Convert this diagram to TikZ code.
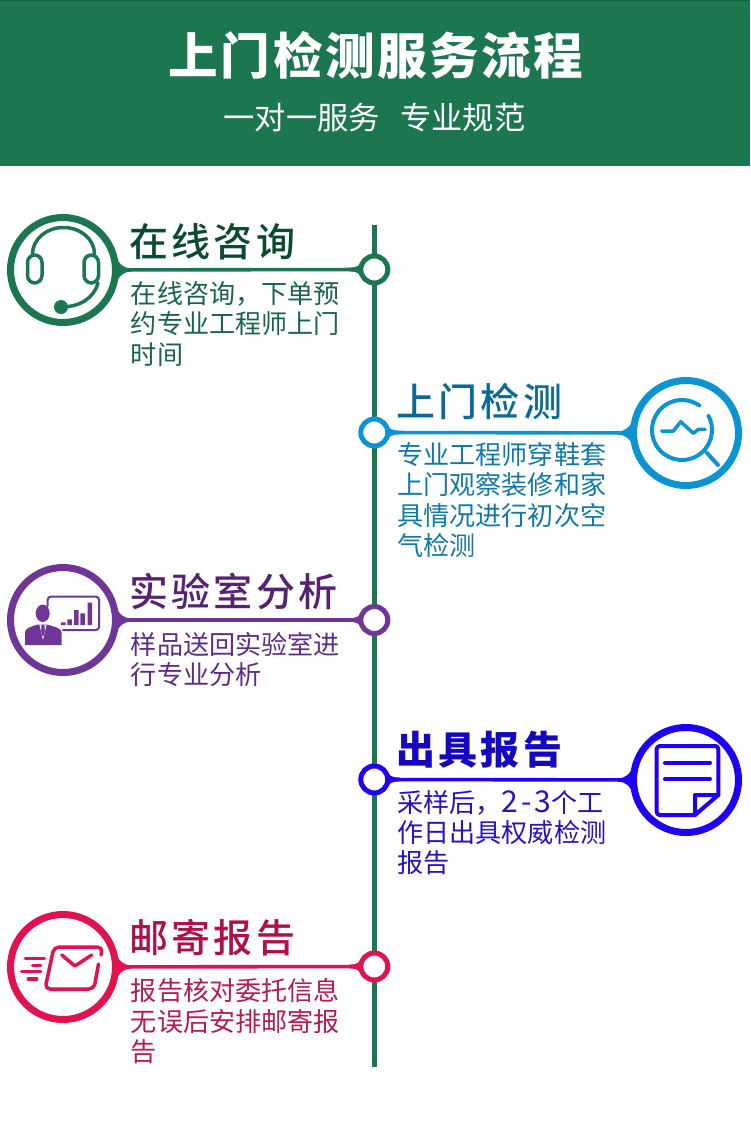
\documentclass[tikz,border=0pt]{standalone}
\usepackage{fontspec}
\usepackage{tikz}
\usetikzlibrary{calc}
\setmainfont{Noto Sans CJK SC}
\newfontfamily\cjkmed[LetterSpace=8]{Noto Sans CJK SC Medium}
\newfontfamily\cjkbold[LetterSpace=8]{Noto Sans CJK SC}
\newfontfamily\cjktitle[LetterSpace=5]{Noto Sans CJK SC}
\definecolor{band}{HTML}{1C7650}
\definecolor{bandtop}{HTML}{14603F}
\definecolor{grn}{HTML}{1C7650}
\definecolor{grnhead}{HTML}{0C4A30}
\definecolor{grnbody}{HTML}{1A6547}
\definecolor{sky}{HTML}{0B94D2}
\definecolor{skyhead}{HTML}{0B6A97}
\definecolor{skybody}{HTML}{1279A6}
\definecolor{vio}{HTML}{6F3597}
\definecolor{viohead}{HTML}{562272}
\definecolor{viobody}{HTML}{5F2C85}
\definecolor{blu}{HTML}{1E00F5}
\definecolor{bluhead}{HTML}{1407BE}
\definecolor{blubody}{HTML}{2214C4}
\definecolor{red}{HTML}{E1124F}
\definecolor{redhead}{HTML}{AE1048}
\definecolor{redbody}{HTML}{B81A50}
\newcommand{\fTitle}{\fontsize{49.6}{60}\selectfont\cjktitle\bfseries}
\newcommand{\fSub}{\fontsize{31.3}{38}\selectfont}
\newcommand{\fHead}{\fontsize{39}{48}\selectfont\cjkmed}
\newcommand{\fHeadB}{\fontsize{39}{48}\selectfont\cjkbold\bfseries}
\newcommand{\fBody}{\fontsize{26.1}{30.2}\selectfont}
\newcommand{\joinflare}[4]{%
  \fill[#3,shift={(#1)},xscale=#4] (52,-15) .. controls (56,-6) and (60,-1.8) .. (68,-1.8) -- (68,1.8) .. controls (60,1.8) and (56,6) .. (52,15) -- cycle;
  \fill[#3,shift={(#2)},xscale=#4] (-12,-9) .. controls (-14,-4) and (-18,-1.8) .. (-25,-1.8) -- (-25,1.8) .. controls (-18,1.8) and (-14,4) .. (-12,9) -- cycle;
  \draw[#3,line width=3.6pt] (#1) -- (#2);}
\begin{document}
\begin{tikzpicture}[x=1pt,y=-1pt,
  ring/.style={circle,draw=#1,fill=white,line width=7pt,minimum size=105pt,inner sep=0pt},
  dot/.style={circle,draw=#1,fill=white,line width=5pt,minimum size=27pt,inner sep=0pt},
  head/.style={anchor=base west,inner sep=0pt,text=#1,font=\fHead},
  body/.style={anchor=north west,inner sep=0pt,align=left,text=#1,font=\fBody,execute at begin node=\strut},
  icon/.style={draw=#1,line width=4pt,line cap=round,line join=round}]
  \useasboundingbox (0,0) rectangle (750,1126);
  \fill[band] (0,0) rectangle (750,166);
  \fill[bandtop] (0,0) rectangle (750,1.5);
  \node[text=white,font=\fTitle] (title) at (376,55) {上门检测服务流程};
  \node[text=white,font=\fSub] (sub) at (374.5,118) {一对一服务\hspace{20pt}专业规范};
  % spine
  \coordinate (spinetop) at (374.5,225);
  \coordinate (spineend) at (374.5,1067);
  \draw[grn,line width=5pt] (spinetop) -- (spineend);
  % consult
  \node[dot=grn] (dot1) at (374.3,269.5) {};
  \node[ring=grn] (ring1) at (63,270) {};
  \joinflare{ring1}{dot1}{grn}{1}
  \node[head=grnhead] (head1) at (129.5,256.5) {在线咨询};
  \node[body=grnbody] (body1) at (130.7,281.5) {在线咨询，下单预\\约专业工程师上门\\时间};
  \draw[icon=grn,line width=3.5pt] (32.5,254) arc[start angle=180,end angle=360,x radius=31,y radius=26.5];
  \draw[icon=grn,line width=3.5pt,rounded corners=7.5pt] (27.5,255) rectangle (42,283);
  \draw[icon=grn,line width=3.5pt,rounded corners=7.5pt] (84,255) rectangle (98.5,283);
  \draw[icon=grn,line width=3.5pt] (98,283) .. controls (94,298) and (80,307) .. (61,307);
  \fill[grn] (61,307) circle[radius=7];
  % inspect
  \node[dot=sky] (dot2) at (374.3,432.5) {};
  \node[ring=sky] (ring2) at (686,433) {};
  \joinflare{ring2}{dot2}{sky}{-1}
  \node[head=skyhead] (head2) at (396.5,416.5) {上门检测};
  \node[body=skybody] (body2) at (397.2,442.5) {专业工程师穿鞋套\\上门观察装修和家\\具情况进行初次空\\气检测};
  \draw[icon=sky] (682,430) ++(-28:30) arc[start angle=-28,end angle=305,radius=30];
  \draw[icon=sky] (707,453) -- (718,465);
  \draw[icon=sky,line width=3.5pt] (661.7,431) -- (673.3,431) -- (680.7,421.7) -- (693.3,433.3) -- (698.3,429.3) -- (705,429.3);
  % lab
  \node[dot=vio] (dot3) at (374.3,620) {};
  \node[ring=vio] (ring3) at (63,620) {};
  \joinflare{ring3}{dot3}{vio}{1}
  \node[head=viohead] (head3) at (129.5,606.5) {实验室分析};
  \node[body=viobody] (body3) at (130.7,632) {样品送回实验室进\\行专业分析};
  \draw[icon=vio,line width=2pt,rounded corners=3pt] (47.7,606) -- (47.7,596.7) -- (99,596.7) -- (99,630) -- (63,630);
  \fill[vio] (61,625) rectangle (65.7,622.3) (67.3,625) rectangle (72,619.3) (74,625) rectangle (78.7,610) (80.3,625) rectangle (85,613.3) (87.7,625) rectangle (92,602.7);
  \fill[vio] (42.7,613.3) ellipse[x radius=7,y radius=8.7];
  \fill[vio] (25,645) -- (25,632) .. controls (25,628) and (33,626) .. (38,624.5) -- (47,624.5) .. controls (52,626) and (61.7,628) .. (61.7,632) -- (61.7,645) -- cycle;
  \fill[white] (39.5,625) -- (43,640) -- (46.5,625) -- (44.5,625) -- (45,633) -- (43,637) -- (41,633) -- (41.5,625) -- cycle;
  % report
  \node[dot=blu] (dot4) at (374.3,779.5) {};
  \node[ring=blu] (ring4) at (686,780) {};
  \joinflare{ring4}{dot4}{blu}{-1}
  \node[head=bluhead,font=\fHeadB] (head4) at (396.5,764.5) {出具报告};
  \node[body=blubody] (body4) at (397.2,790) {采样后，{\fontsize{30}{30}\selectfont 2\kern3pt-\kern3pt3}个工\\作日出具权威检测\\报告};
  \draw[icon=blu,rounded corners=3pt] (718.3,795) -- (718.3,746) -- (656.7,746) -- (656.7,815) -- (695,815);
  \draw[icon=blu] (695,815) -- (695,795) -- (718.3,795) -- cycle;
  \draw[icon=blu] (665,762.7) -- (710,762.7);
  \draw[icon=blu] (665,779) -- (710,779);
  % post
  \node[dot=red] (dot5) at (374.3,966.5) {};
  \node[ring=red] (ring5) at (63,967) {};
  \joinflare{ring5}{dot5}{red}{1}
  \node[head=redhead] (head5) at (129.5,952.5) {邮寄报告};
  \node[body=redbody] (body5) at (130.7,978.5) {报告核对委托信息\\无误后安排邮寄报\\告};
  \draw[icon=red,line width=3.5pt,rounded corners=5pt] (98.5,964) -- (94,989) -- (45,989) -- (54,947) -- (102.5,947) -- (101,955);
  \draw[icon=red,line width=3.5pt] (61.7,955) -- (75,966) -- (91.7,955);
  \draw[icon=red,line width=3.5pt] (25.3,958.3) -- (44.3,958.3);
  \draw[icon=red,line width=3.5pt] (32.7,965.7) -- (40.7,965.7);
  \draw[icon=red,line width=3.5pt] (21.7,971.7) -- (40.7,971.7);
  \draw[icon=red,line width=3.5pt] (28.3,979) -- (36.7,979);
\end{tikzpicture}
\end{document}
